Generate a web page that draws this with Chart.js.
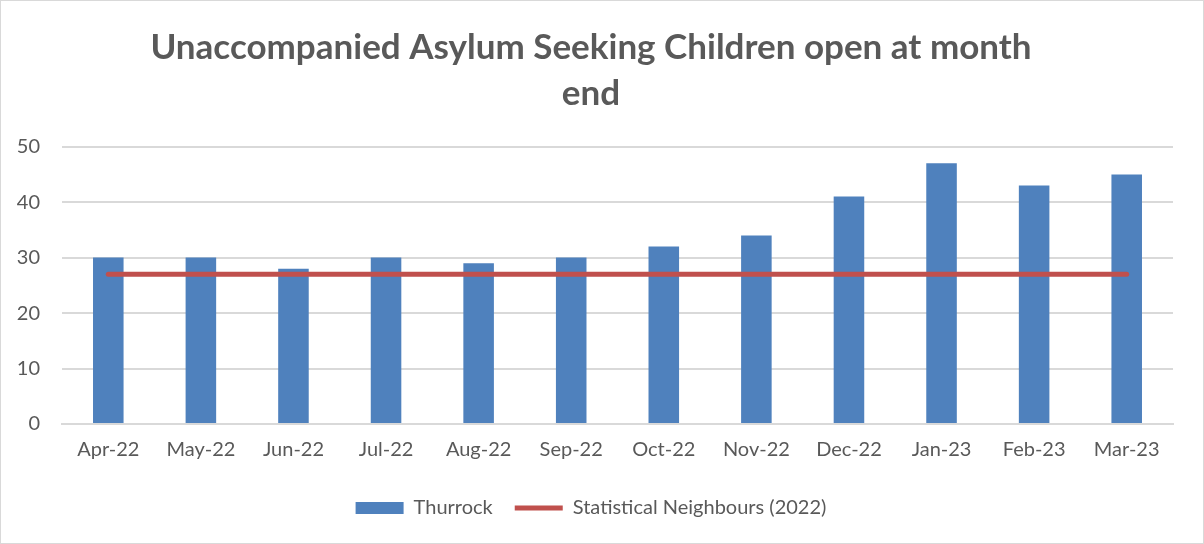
<!DOCTYPE html>
<html>
<head>
  <meta charset="utf-8">
  <title>Unaccompanied Asylum Seeking Children</title>
  <script src="https://cdn.jsdelivr.net/npm/chart.js@4.4.0/dist/chart.umd.min.js"></script>
  <style>
    html, body { margin: 0; padding: 0; background: #ffffff; }
    #wrap { position: relative; width: 1202px; height: 542px; border: 1px solid #d9d9d9; }
  </style>
</head>
<body>
  <div id="wrap"><canvas id="myChart"></canvas></div>
  <script>
    // chart data
    let months = ['Apr-22', 'May-22', 'Jun-22', 'Jul-22', 'Aug-22', 'Sep-22', 'Oct-22', 'Nov-22', 'Dec-22', 'Jan-23', 'Feb-23', 'Mar-23'];
    let thurrock = [30, 30, 28, 30, 29, 30, 32, 34, 41, 47, 43, 45];
    let neighbours = [27, 27, 27, 27, 27, 27, 27, 27, 27, 27, 27, 27];
    let titleLines = ['Unaccompanied Asylum Seeking Children open at month', 'end'];

    let grey = '#595959';
    let font = 'Lato, Calibri, Carlito, sans-serif';

    var ctx = document.getElementById('myChart').getContext('2d');
    var myChart = new Chart(ctx, {
      type: 'bar',
      data: {
        labels: months,
        datasets: [{
          label: 'Thurrock',
          data: thurrock,
          backgroundColor: '#4f81bd',
          borderWidth: 0,
          barPercentage: 0.33,
          categoryPercentage: 1,
          pointStyle: 'rect',
          order: 2
        }, {
          type: 'line',
          label: 'Statistical Neighbours (2022)',
          data: neighbours,
          borderColor: '#c0504d',
          backgroundColor: '#c0504d',
          borderWidth: 5,
          borderCapStyle: 'round',
          pointRadius: 0,
          pointHoverRadius: 0,
          pointStyle: 'line',
          order: 1
        }]
      },
      options: {
        responsive: true,
        maintainAspectRatio: false,
        animation: false,
        layout: { padding: { left: 8, right: 30, top: 14, bottom: 15 } },
        plugins: {
          title: {
            display: true,
            text: titleLines,
            color: grey,
            font: { family: font, size: 35, weight: 'bold', lineHeight: 1.31 },
            padding: { top: 10, bottom: 30 }
          },
          legend: {
            position: 'bottom',
            labels: {
              color: grey,
              font: { family: font, size: 20 },
              usePointStyle: true,
              pointStyleWidth: 48,
              boxHeight: 12,
              padding: 22,
              sort: function (a, b) { return a.datasetIndex - b.datasetIndex; }
            }
          },
          tooltip: { enabled: false }
        },
        scales: {
          x: {
            grid: { display: false, drawTicks: false },
            border: { color: '#d9d9d9', width: 2 },
            ticks: { color: grey, font: { family: font, size: 20 }, padding: 14, maxRotation: 0 }
          },
          y: {
            min: 0,
            max: 50,
            afterFit: function (scale) { scale.width = 53; },
            grid: { color: '#d9d9d9', lineWidth: 2, drawTicks: false },
            border: { display: false },
            ticks: { stepSize: 10, color: grey, font: { family: font, size: 20 }, padding: 22 }
          }
        }
      }
    });
  </script>
</body>
</html>
